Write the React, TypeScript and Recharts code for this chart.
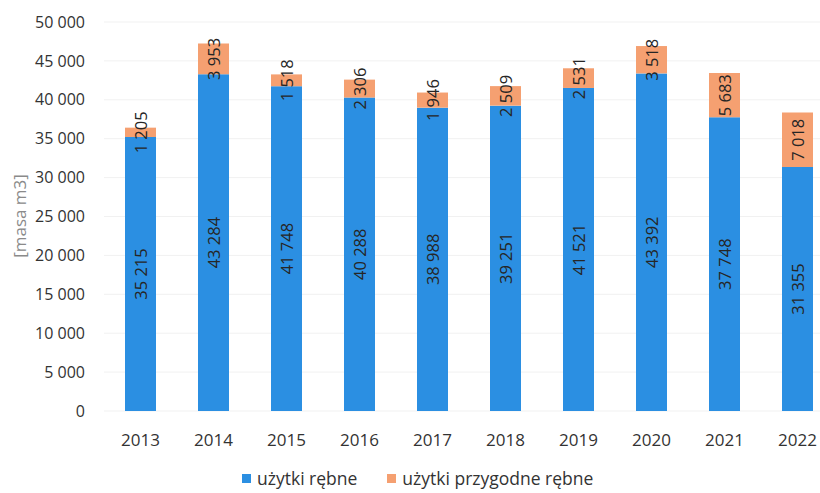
import { BarChart, Bar, XAxis, YAxis, CartesianGrid, LabelList } from "recharts";

const years = ["2013", "2014", "2015", "2016", "2017", "2018", "2019", "2020", "2021", "2022"];
const rebne = [35215, 43284, 41748, 40288, 38988, 39251, 41521, 43392, 37748, 31355];
const przygodne = [1205, 3953, 1518, 2306, 1946, 2509, 2531, 3518, 5683, 7018];
const yTicks = [0, 5000, 10000, 15000, 20000, 25000, 30000, 35000, 40000, 45000, 50000];

const BLUE = "#2B8FE2";
const ORANGE = "#F5A071";
const FONT = "'Open Sans', sans-serif";

const data = years.map((y, i) => ({ year: y, rebne: rebne[i], przygodne: przygodne[i] }));

// 35215 -> "35 215"
const fmt = (v: number) => String(v).replace(/\B(?=(\d{3})+(?!\d))/g, " ");

// etykieta obrócona o -90°, na środku segmentu
const VertLabel = (props: any) => {
  const { x, y, width, height, value } = props;
  const cx = x + width / 2;
  const cy = y + height / 2;
  return (
    <text
      x={cx}
      y={cy}
      transform={`rotate(-90 ${cx} ${cy})`}
      textAnchor="middle"
      dominantBaseline="central"
      fill="#262626"
      fontSize={16.5}
      fontFamily={FONT}
    >
      {fmt(value)}
    </text>
  );
};

export default function App() {
  return (
    <div style={{ position: "absolute", left: 0, top: 0, width: 820, height: 493, overflow: "hidden", background: "#fff" }}>
      <BarChart width={840} height={493} data={data} margin={{ top: 22, right: 6, bottom: 52, left: 0 }}>
        <CartesianGrid stroke="#f1f1f1" vertical={false} />
        <XAxis
          dataKey="year"
          axisLine={false}
          tickLine={false}
          tickSize={0}
          tickMargin={23}
          tick={{ fill: "#333", fontSize: 17, fontFamily: FONT }}
        />
        <YAxis
          width={104}
          domain={[0, 50000]}
          ticks={yTicks}
          axisLine={false}
          tickLine={false}
          tickSize={0}
          tickMargin={19}
          tickFormatter={fmt}
          tick={{ fill: "#333", fontSize: 16, fontFamily: FONT }}
          label={{
            content: () => (
              <text x={19} y={216} transform="rotate(-90 19 216)" textAnchor="middle" dominantBaseline="central" fill="#8a8a8a" fontSize={17} fontFamily={FONT}>
                [masa m3]
              </text>
            ),
          }}
        />
        <Bar dataKey="rebne" stackId="a" fill={BLUE} barSize={31} isAnimationActive={false}>
          <LabelList dataKey="rebne" content={<VertLabel />} />
        </Bar>
        <Bar dataKey="przygodne" stackId="a" fill={ORANGE} barSize={31} isAnimationActive={false}>
          <LabelList dataKey="przygodne" content={<VertLabel />} />
        </Bar>
      </BarChart>
      <div style={{ position: "absolute", left: 242, top: 466, height: 24, display: "flex", alignItems: "center", fontFamily: FONT, fontSize: 17.5, color: "#333", whiteSpace: "nowrap" }}>
        <span style={{ width: 9, height: 9, background: BLUE, marginRight: 6, display: "inline-block" }} />
        <span style={{ marginRight: 30 }}>użytki rębne</span>
        <span style={{ width: 9, height: 9, background: ORANGE, marginRight: 6, display: "inline-block" }} />
        <span>użytki przygodne rębne</span>
      </div>
    </div>
  );
}
